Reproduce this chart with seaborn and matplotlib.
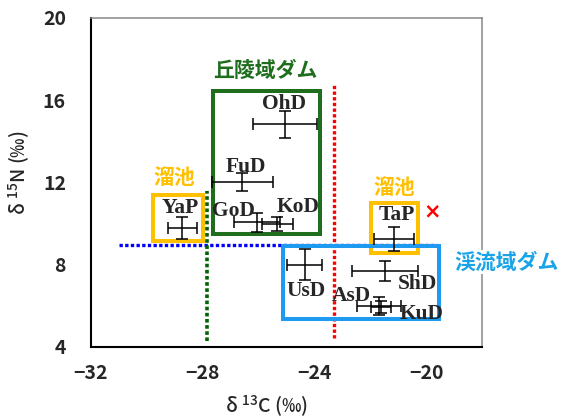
import matplotlib
matplotlib.use("Agg")
import matplotlib.pyplot as plt
from matplotlib.patches import Rectangle
import pandas as pd
import seaborn as sns

# site means and SD (d13C, d15N)
sites = ["OhD", "FuD", "GoD", "KoD", "YaP", "TaP", "UsD", "ShD", "AsD", "KuD"]
d13c = [-25.05, -26.58, -26.04, -25.32, -28.73, -21.14, -24.35, -21.46, -21.68, -21.60]
d15n = [14.83, 12.01, 10.06, 9.98, 9.79, 9.25, 8.00, 7.71, 6.00, 5.95]
d13c_sd = [1.15, 1.09, 0.82, 0.55, 0.52, 0.72, 0.63, 1.18, 0.80, 0.36]
d15n_sd = [0.66, 0.43, 0.45, 0.35, 0.53, 0.57, 0.75, 0.49, 0.45, 0.28]

# where each site name is written
label_x = [-25.08, -26.46, -26.90, -24.57, -28.81, -21.04, -24.30, -20.32, -22.66, -20.17]
label_y = [15.80, 12.76, 10.60, 10.80, 10.76, 10.44, 6.70, 7.06, 6.49, 5.61]

# group boxes: (c_min, n_min, c_max, n_max)
hill_box = (-27.63, 9.51, -23.81, 16.45)
pond_box_1 = (-29.77, 9.14, -27.98, 11.41)
pond_box_2 = (-21.96, 8.59, -20.27, 11.00)
stream_box = (-25.13, 5.34, -19.55, 8.89)

# reference lines
n_line = 8.98
c_line_green = -27.86
c_line_red = -23.28

df = pd.DataFrame({"site": sites, "d13C": d13c, "d15N": d15n,
                   "sdC": d13c_sd, "sdN": d15n_sd})

sns.set_theme(style="white")
plt.rcParams["font.family"] = ["Noto Sans CJK JP", "DejaVu Sans"]

fig = plt.figure(figsize=(5.61, 4.18), dpi=100)
ax = fig.add_axes([0.162, 0.170, 0.697, 0.787])

green = "#1e6e1e"
orange = "#ffc000"
blue_box = "#1e9af0"
blue_txt = "#1aa3e6"

# dotted reference lines
dots = (0, (1, 0.7))
ax.plot([-31.0, -19.6], [n_line, n_line], color="#0000ff", lw=2.4, ls=dots, zorder=2)
ax.plot([c_line_green, c_line_green], [4.3, 11.58], color="#006400", lw=2.6, ls=dots, zorder=2)
ax.plot([c_line_red, c_line_red], [4.45, 16.8], color="#ff0000", lw=2.4, ls=dots, zorder=2)

# group boxes
for (x0, y0, x1, y1), col in [(hill_box, green), (pond_box_1, orange),
                              (pond_box_2, orange), (stream_box, blue_box)]:
    ax.add_patch(Rectangle((x0, y0), x1 - x0, y1 - y0, fill=False,
                           edgecolor=col, lw=2.9, zorder=3))

ax.errorbar(df["d13C"], df["d15N"], xerr=df["sdC"], yerr=df["sdN"],
            fmt="none", ecolor="black", elinewidth=1.1, capsize=4,
            capthick=1.1, zorder=4)

for name, lx, ly in zip(sites, label_x, label_y):
    ax.text(lx, ly, name, ha="center", va="center", fontsize=15.5,
            fontweight="bold", family="Liberation Serif", zorder=5)

jp = dict(ha="center", va="center", fontsize=15, fontweight="bold")
ax.text(-25.76, 17.43, "丘陵域ダム", color=green, **jp)
ax.text(-29.02, 12.23, "溜池", color=orange, **jp)
ax.text(-21.13, 11.74, "溜池", color=orange, **jp)
ax.text(-17.11, 8.13, "渓流域ダム", color=blue_txt, clip_on=False, zorder=6,
        bbox=dict(facecolor="white", edgecolor="none", pad=1), **jp)
ax.text(-19.78, 10.59, "×", color="#ff0000", ha="center", va="center",
        fontsize=15, fontweight="bold", family="DejaVu Sans")

ax.set_xlim(-32, -18)
ax.set_ylim(4, 20)
ax.set_xticks([-32, -28, -24, -20])
ax.set_yticks([4, 8, 12, 16, 20])
ax.tick_params(axis="y", direction="in", length=6.5, width=1.3, pad=18,
               labelsize=14)
ax.tick_params(axis="x", direction="in", length=4.5, width=1.3, pad=12,
               labelsize=14)
for lab in ax.get_xticklabels() + ax.get_yticklabels():
    lab.set_fontweight("bold")

for side in ["left", "bottom"]:
    ax.spines[side].set_color("black")
    ax.spines[side].set_linewidth(1.5)
for side in ["top", "right"]:
    ax.spines[side].set_color("#888888")
    ax.spines[side].set_linewidth(1.1)

ax.set_xlabel("δ $^{\\mathregular{13}}$C (‰)", fontsize=14, fontweight="medium")
ax.set_ylabel("δ $^{\\mathregular{15}}$N (‰)", fontsize=14, fontweight="medium")
ax.xaxis.set_label_coords(0.45, -0.14)
ax.yaxis.set_label_coords(-0.15, 0.53)

fig.savefig("out.png", dpi=100)
